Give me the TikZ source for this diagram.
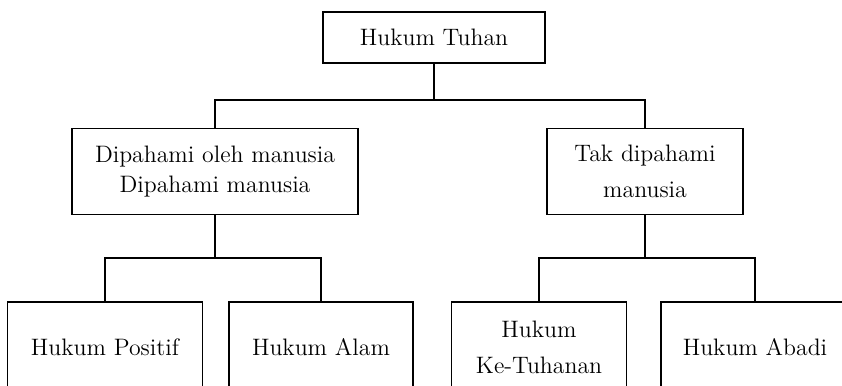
\documentclass[tikz,border=0pt]{standalone}
\usepackage{tikz}

\begin{document}
\begin{tikzpicture}[x=0.5pt,y=-0.5pt,line width=0.75pt,
  box/.style={draw,rectangle,align=center,inner sep=2pt,
    font=\fontsize{11.9}{15}\selectfont}]
  \useasboundingbox (0,0) rectangle (842,386);
  \clip (0,0) rectangle (842,386);

  %top box
  \node[box,minimum width=111pt,minimum height=25.5pt] (tuhan) at (434,37.5) {Hukum Tuhan};

  %middle boxes
  \node[box,minimum width=143pt,minimum height=43pt] (paham) at (215,171.5) {Dipahami oleh manusia\\Dipahami manusia};
  \node[box,minimum width=98pt,minimum height=43pt] (takpaham) at (645,171.5) {Tak dipahami\\[3pt]manusia};

  %lower boxes, cut by the page edge
  \node[box,minimum width=97.5pt,minimum height=45pt] (positif) at (105,347) {Hukum Positif};
  \node[box,minimum width=92pt,minimum height=45pt] (alam) at (321,347) {Hukum Alam};
  \node[box,minimum width=87.5pt,minimum height=45pt] (ketuhanan) at (539,347) {Hukum\\[3pt]Ke-Tuhanan};
  \node[box,minimum width=94pt,minimum height=45pt] (abadi) at (755,347) {Hukum Abadi};

  %bus lines
  \coordinate (busA) at (434,100);
  \coordinate (busB) at (215,258);
  \coordinate (busC) at (645,258);

  \draw (tuhan.south) -- (busA);
  \draw (paham.north) |- (busA) -| (takpaham.north);

  \draw (paham.south) -- (busB);
  \draw (positif.north) |- (busB) -| (alam.north);

  \draw (takpaham.south) -- (busC);
  \draw (ketuhanan.north) |- (busC) -| (abadi.north);
\end{tikzpicture}
\end{document}
